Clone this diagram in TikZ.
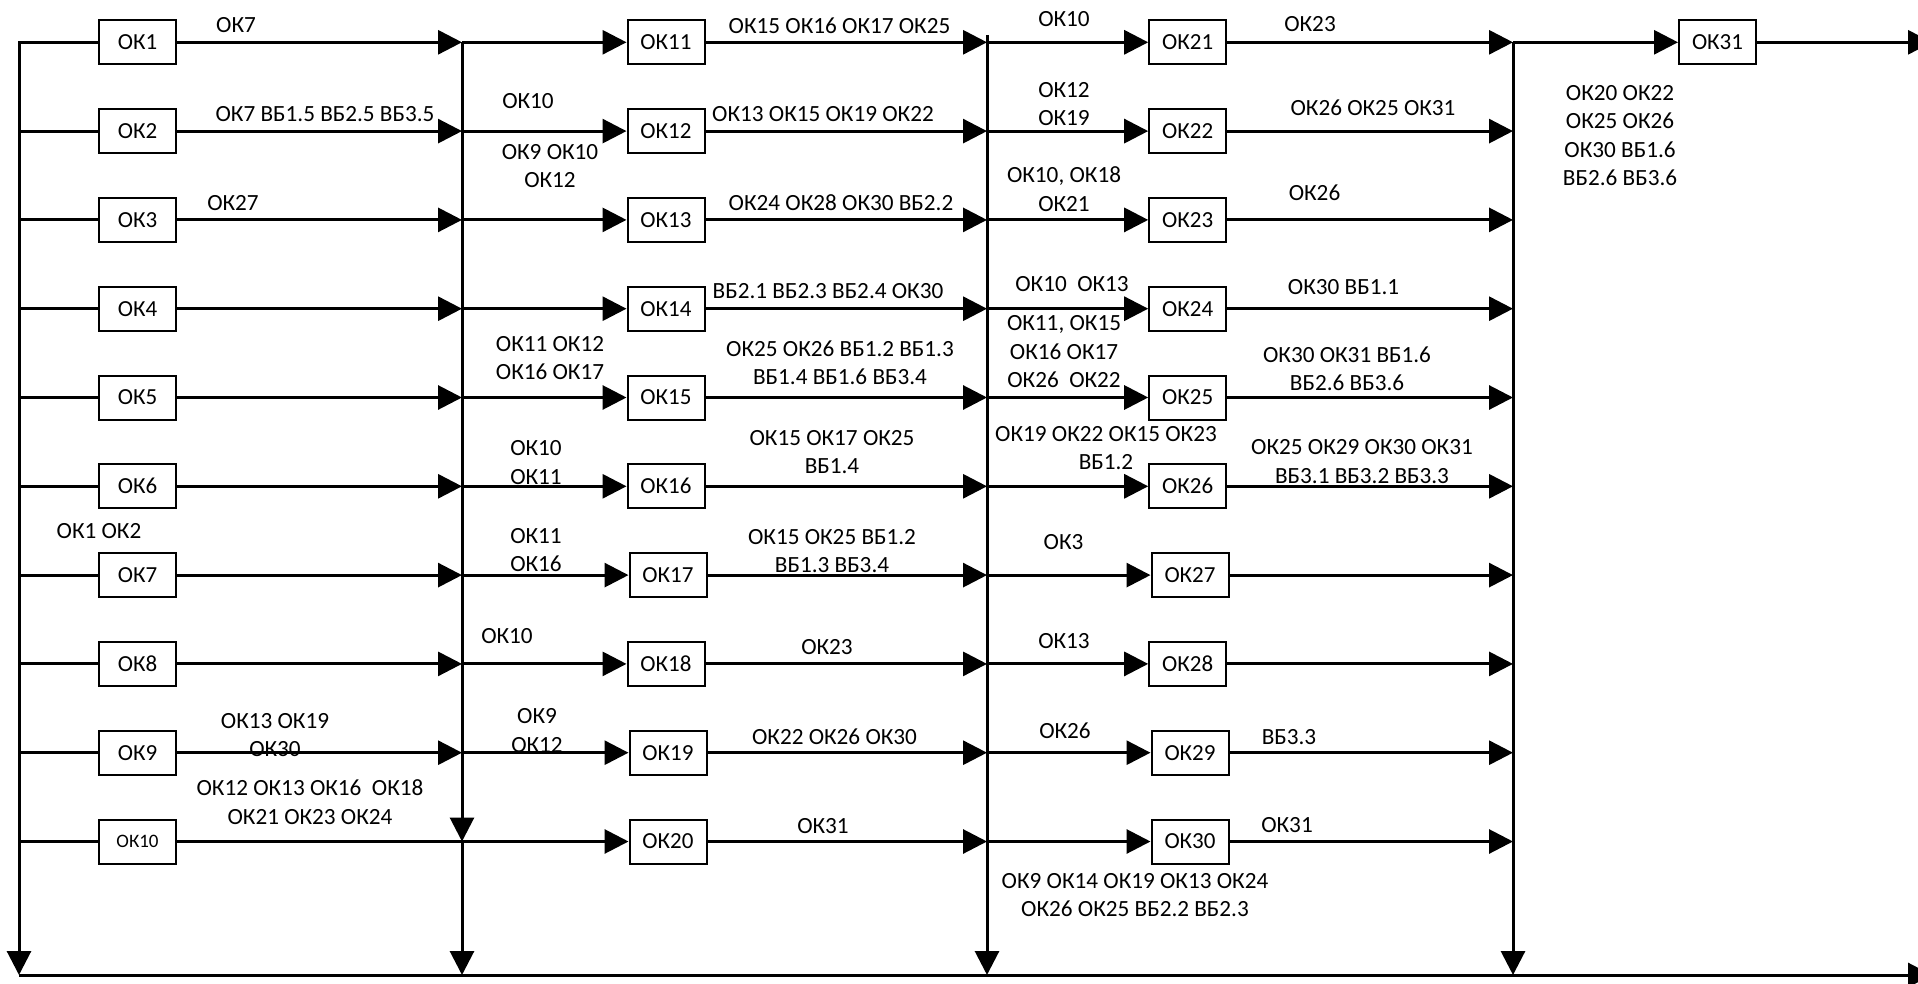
\documentclass[tikz,border=0pt]{standalone}
\usepackage{fontspec}
\setmainfont{Carlito}
\usetikzlibrary{arrows.meta}
\begin{document}
\begin{tikzpicture}[x=1pt,y=-1pt,
  line width=3pt,
  arr/.style={-{Triangle[length=24pt,width=24pt]}},
  okbox/.style={draw,line width=2pt,minimum width=77pt,minimum height=44pt,inner sep=0pt,font=\fontsize{23}{27}\selectfont},
  lbl/.style={inner sep=0pt,align=center,font=\fontsize{23.2}{28.5}\selectfont},
]
\useasboundingbox (0,0) rectangle (1918,984);
\clip (0,0) rectangle (1918,984);

% row positions
\foreach \i/\y in {1/42.3,2/131.1,3/219.9,4/308.7,5/397.5,6/486.3,7/575.1,8/663.9,9/752.7,10/841.5}{
  \coordinate (L\i) at (19,\y);
  \coordinate (A\i) at (462,\y);
  \coordinate (B\i) at (987,\y);
  \coordinate (C\i) at (1513,\y);
}
\coordinate (LB) at (19,975);
\coordinate (AB) at (462,975);
\coordinate (B0) at (987,35);
\coordinate (BB) at (987,975);
\coordinate (CB) at (1513,975);
\coordinate (E) at (1932,975);
\coordinate (O) at (1932,42.3);

% column 1
\node[okbox] (ok1) at (137.5,42.3) {ОК1};
\node[okbox] (ok2) at (137.5,131.1) {ОК2};
\node[okbox] (ok3) at (137.5,219.9) {ОК3};
\node[okbox] (ok4) at (137.5,308.7) {ОК4};
\node[okbox] (ok5) at (137.5,397.5) {ОК5};
\node[okbox] (ok6) at (137.5,486.3) {ОК6};
\node[okbox] (ok7) at (137.5,575.1) {ОК7};
\node[okbox] (ok8) at (137.5,663.9) {ОК8};
\node[okbox] (ok9) at (137.5,752.7) {ОК9};
\node[okbox,font=\fontsize{19}{23}\selectfont] (ok10) at (137.5,841.5) {ОК10};
% column 2
\node[okbox] (ok11) at (666,42.3) {ОК11};
\node[okbox] (ok12) at (666,131.1) {ОК12};
\node[okbox] (ok13) at (666,219.9) {ОК13};
\node[okbox] (ok14) at (666,308.7) {ОК14};
\node[okbox] (ok15) at (666,397.5) {ОК15};
\node[okbox] (ok16) at (666,486.3) {ОК16};
\node[okbox] (ok17) at (668,575.1) {ОК17};
\node[okbox] (ok18) at (666,663.9) {ОК18};
\node[okbox] (ok19) at (668,752.7) {ОК19};
\node[okbox] (ok20) at (668,841.5) {ОК20};
% column 3
\node[okbox] (ok21) at (1187.7,42.3) {ОК21};
\node[okbox] (ok22) at (1187.7,131.1) {ОК22};
\node[okbox] (ok23) at (1187.7,219.9) {ОК23};
\node[okbox] (ok24) at (1187.7,308.7) {ОК24};
\node[okbox] (ok25) at (1187.7,397.5) {ОК25};
\node[okbox] (ok26) at (1187.7,486.3) {ОК26};
\node[okbox] (ok27) at (1190,575.1) {ОК27};
\node[okbox] (ok28) at (1187.7,663.9) {ОК28};
\node[okbox] (ok29) at (1190,752.7) {ОК29};
\node[okbox] (ok30) at (1190,841.5) {ОК30};
\node[okbox] (ok31) at (1717.5,42.3) {ОК31};

% connectors
\draw[arr] (ok1.west) -- (L1) -- (LB);
\foreach \i in {2,...,10}{ \draw (L\i) -- (ok\i.west); }
\foreach \i in {1,...,9}{ \draw[arr] (ok\i.east) -- (A\i); }
\draw (ok10.east) -- (A10);
\foreach \i in {1,...,10}{
  \pgfmathtruncatemacro\m{10+\i}
  \pgfmathtruncatemacro\n{20+\i}
  \draw[arr] (A\i) -- (ok\m.west);
  \draw[arr] (ok\m.east) -- (B\i);
  \draw[arr] (B\i) -- (ok\n.west);
  \draw[arr] (ok\n.east) -- (C\i);
}
\draw[arr] (A1) -- (A10);
\draw[arr] (A10) -- (AB);
\draw[arr] (B0) -- (BB);
\draw[arr] (C1) -- (CB);
\draw[arr] (LB) -- (E);
\draw[arr] (C1) -- (ok31.west);
\draw[arr] (ok31.east) -- (O);

% labels column 1
\node[lbl] (t1) at (236,25) {ОК7};
\node[lbl] (t2) at (325,114) {ОК7 ВБ1.5 ВБ2.5 ВБ3.5};
\node[lbl] (t3) at (233,203) {ОК27};
\node[lbl] (t4) at (99,531) {ОК1 ОК2};
\node[lbl] (t5) at (275,735) {ОК13 ОК19\\ОК30};
\node[lbl] (t6) at (310,802) {ОК12 ОК13 ОК16~ ОК18\\ОК21 ОК23 ОК24};
% labels bus 1 region
\node[lbl] (t7) at (528,101) {ОК10};
\node[lbl] (t8) at (550,166) {ОК9 ОК10\\ОК12};
\node[lbl] (t9) at (550,358) {ОК11 ОК12\\ОК16 ОК17};
\node[lbl] (t10) at (536,462.5) {ОК10\\ОК11};
\node[lbl] (t11) at (536,550) {ОК11\\ОК16};
\node[lbl] (t12) at (507,636) {ОК10};
\node[lbl] (t13) at (537,730.5) {ОК9\\ОК12};
% labels column 2
\node[lbl] (t14) at (839.5,25.5) {ОК15 ОК16 ОК17 ОК25};
\node[lbl] (t15) at (823,114) {ОК13 ОК15 ОК19 ОК22};
\node[lbl] (t16) at (841,203) {ОК24 ОК28 ОК30 ВБ2.2};
\node[lbl] (t17) at (828,291.5) {ВБ2.1 ВБ2.3 ВБ2.4 ОК30};
\node[lbl] (t18) at (840,363) {ОК25 ОК26 ВБ1.2 ВБ1.3\\ВБ1.4 ВБ1.6 ВБ3.4};
\node[lbl] (t19) at (832,452) {ОК15 ОК17 ОК25\\ВБ1.4};
\node[lbl] (t20) at (832,551) {ОК15 ОК25 ВБ1.2\\ВБ1.3 ВБ3.4};
\node[lbl] (t21) at (827,647) {ОК23};
\node[lbl] (t22) at (834.5,736.5) {ОК22 ОК26 ОК30};
\node[lbl] (t23) at (823,826) {ОК31};
% labels bus 2 region
\node[lbl] (t24) at (1064,19.5) {ОК10};
\node[lbl] (t25) at (1064,104) {ОК12\\ОК19};
\node[lbl] (t26) at (1064,189) {ОК10, ОК18\\ОК21};
\node[lbl] (t27) at (1072,284.5) {ОК10~ ОК13};
\node[lbl] (t28) at (1064,352) {ОК11, ОК15\\ОК16 ОК17\\ОК26~ ОК22};
\node[lbl] (t29) at (1106,448) {ОК19 ОК22 ОК15 ОК23\\ВБ1.2};
\node[lbl] (t30) at (1063.5,542.5) {ОК3};
\node[lbl] (t31) at (1064,641) {ОК13};
\node[lbl] (t32) at (1065,731) {ОК26};
\node[lbl] (t33) at (1135,895) {ОК9 ОК14 ОК19 ОК13 ОК24\\ОК26 ОК25 ВБ2.2 ВБ2.3};
% labels column 3
\node[lbl] (t34) at (1310,24.5) {ОК23};
\node[lbl] (t35) at (1373,108) {ОК26 ОК25 ОК31};
\node[lbl] (t36) at (1314.5,192.5) {ОК26};
\node[lbl] (t37) at (1343.5,287.5) {ОК30 ВБ1.1};
\node[lbl] (t38) at (1347,369) {ОК30 ОК31 ВБ1.6\\ВБ2.6 ВБ3.6};
\node[lbl] (t39) at (1362,461.5) {ОК25 ОК29 ОК30 ОК31\\ВБ3.1 ВБ3.2 ВБ3.3};
\node[lbl] (t40) at (1289,737.5) {ВБ3.3};
\node[lbl] (t41) at (1287,825.5) {ОК31};
% right region
\node[lbl] (t42) at (1620,135.5) {ОК20 ОК22\\ОК25 ОК26\\ОК30 ВБ1.6\\ВБ2.6 ВБ3.6};
\end{tikzpicture}
\end{document}
